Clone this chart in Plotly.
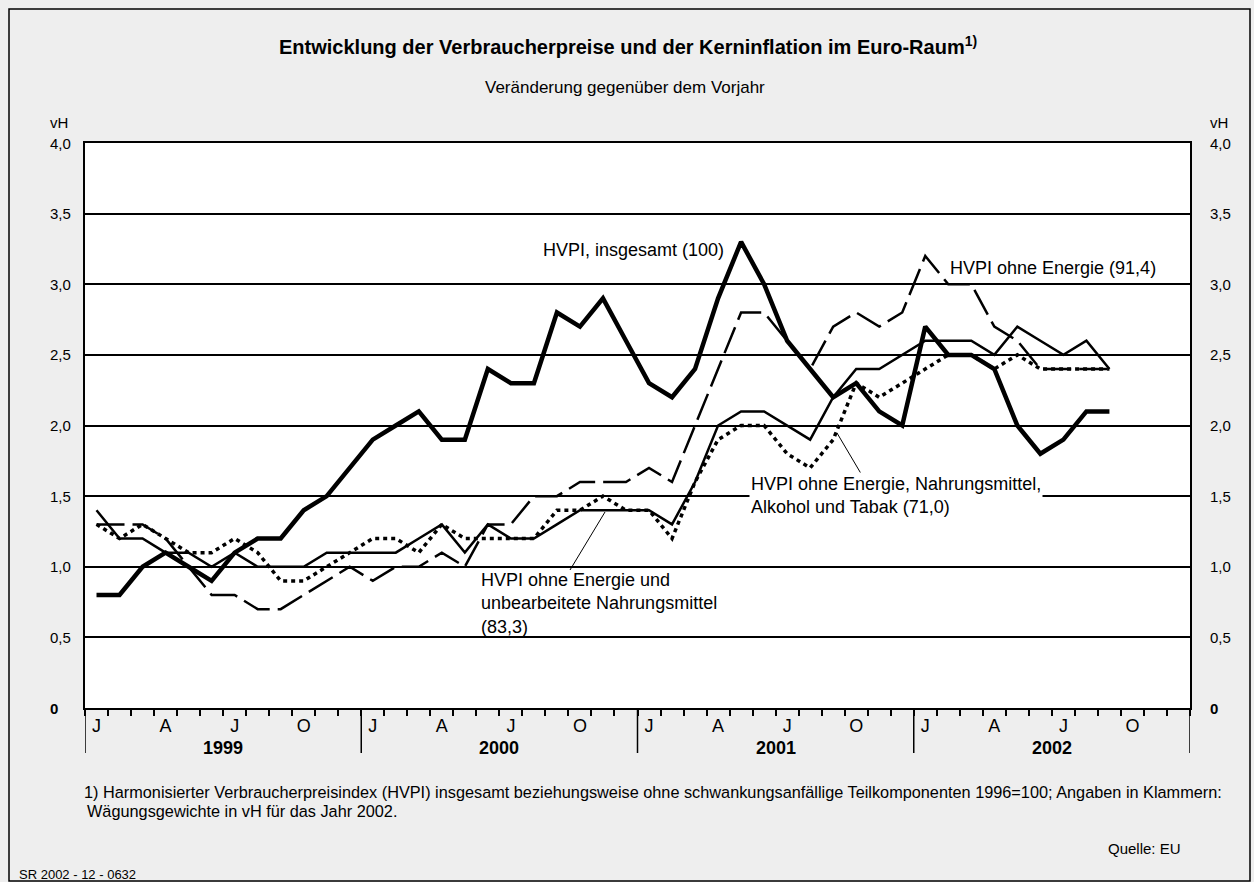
import plotly.graph_objects as go

# month letters and years on the x axis
month_letters = ["J", "F", "M", "A", "M", "J", "J", "A", "S", "O", "N", "D"]
years = ["1999", "2000", "2001", "2002"]

# Veränderung gegenüber dem Vorjahr in vH, Jan 1999 - Sep 2002
hvpi_total = [0.8, 0.8, 1.0, 1.1, 1.0, 0.9, 1.1, 1.2, 1.2, 1.4, 1.5, 1.7,
              1.9, 2.0, 2.1, 1.9, 1.9, 2.4, 2.3, 2.3, 2.8, 2.7, 2.9, 2.6,
              2.3, 2.2, 2.4, 2.9, 3.3, 3.0, 2.6, 2.4, 2.2, 2.3, 2.1, 2.0,
              2.7, 2.5, 2.5, 2.4, 2.0, 1.8, 1.9, 2.1, 2.1]
hvpi_ex_energy = [1.3, 1.3, 1.3, 1.2, 1.0, 0.8, 0.8, 0.7, 0.7, 0.8, 0.9, 1.0,
                  0.9, 1.0, 1.0, 1.1, 1.0, 1.3, 1.3, 1.5, 1.5, 1.6, 1.6, 1.6,
                  1.7, 1.6, 2.0, 2.4, 2.8, 2.8, 2.6, 2.4, 2.7, 2.8, 2.7, 2.8,
                  3.2, 3.0, 3.0, 2.7, 2.6, 2.4, 2.4, 2.4, 2.4]
hvpi_ex_energy_unproc_food = [1.4, 1.2, 1.2, 1.1, 1.1, 1.0, 1.1, 1.0, 1.0, 1.0, 1.1, 1.1,
                              1.1, 1.1, 1.2, 1.3, 1.1, 1.3, 1.2, 1.2, 1.3, 1.4, 1.4, 1.4,
                              1.4, 1.3, 1.6, 2.0, 2.1, 2.1, 2.0, 1.9, 2.2, 2.4, 2.4, 2.5,
                              2.6, 2.6, 2.6, 2.5, 2.7, 2.6, 2.5, 2.6, 2.4]
hvpi_ex_energy_food_alc_tob = [1.3, 1.2, 1.3, 1.2, 1.1, 1.1, 1.2, 1.1, 0.9, 0.9, 1.0, 1.1,
                               1.2, 1.2, 1.1, 1.3, 1.2, 1.2, 1.2, 1.2, 1.4, 1.4, 1.5, 1.4,
                               1.4, 1.2, 1.6, 1.9, 2.0, 2.0, 1.8, 1.7, 1.9, 2.3, 2.2, 2.3,
                               2.4, 2.5, 2.5, 2.4, 2.5, 2.4, 2.4, 2.4, 2.4]

y_ticks = [0, 0.5, 1.0, 1.5, 2.0, 2.5, 3.0, 3.5, 4.0]
y_tick_labels = ["0", "0,5", "1,0", "1,5", "2,0", "2,5", "3,0", "3,5", "4,0"]

FONT = "Liberation Sans, Arial, sans-serif"
W, H = 1254, 882
L, R, T, B = 85, 64, 143, 174
n_months = len(years) * 12


def px_x(px):
    # pixel column -> month index
    return (px - L) / ((W - L - R) / n_months) - 0.5


def px_y(py):
    # pixel row -> value
    return (H - B - py) / ((H - T - B) / 4.0)


fig = go.Figure()


def add_series(values, width, dash):
    fig.add_trace(go.Scatter(
        x=list(range(len(values))), y=values, mode="lines",
        line=dict(color="black", width=width, dash=dash),
        hoverinfo="skip", showlegend=False,
    ))


add_series(hvpi_ex_energy_food_alc_tob, 3.5, "4px,4px")
add_series(hvpi_ex_energy, 2.5, "28px,8px")
add_series(hvpi_ex_energy_unproc_food, 2.5, "solid")
add_series(hvpi_total, 4.5, "solid")

notes = []


def note(text, px, py, size=18, anchor="left", bold=False, bg=None, align="left"):
    if bold:
        text = "<b>" + text + "</b>"
    notes.append(dict(
        text=text, xref="paper", yref="paper", x=0, y=0,
        xshift=px - L, yshift=(H - B) - py, xanchor=anchor, yanchor="middle",
        showarrow=False, align=align, font=dict(family=FONT, size=size, color="black"),
        bgcolor=bg, borderpad=1,
    ))


# y tick labels on both sides
for v, lab in zip(y_ticks, y_tick_labels):
    for x0 in (48, 1208):
        notes.append(dict(
            text="<b>" + lab + "</b>" if v == 0 else lab,
            xref="paper", yref="y", x=0, y=v, xshift=x0 - L, xanchor="left",
            yanchor="middle", showarrow=False,
            font=dict(family=FONT, size=15, color="black"),
        ))
note("vH", 48, 122, size=15)
note("vH", 1208, 122, size=15)

# year labels
for k, yr in enumerate(years):
    notes.append(dict(
        text="<b>" + yr + "</b>", xref="x", yref="paper", x=12 * k + 5.5, y=0,
        yshift=-40, xanchor="center", yanchor="middle", showarrow=False,
        font=dict(family=FONT, size=18, color="black"),
    ))

note("Entwicklung der Verbraucherpreise und der Kerninflation im Euro-Raum<sup>1)</sup>",
     628, 45, size=20, anchor="center", bold=True)
note("Veränderung gegenüber dem Vorjahr", 625, 87, size=17, anchor="center")

note("HVPI, insgesamt (100)", 541, 250)
note("HVPI ohne Energie (91,4)", 948, 268)
note("HVPI ohne Energie, Nahrungsmittel,<br>Alkohol und Tabak (71,0)", 749, 495, bg="white")
note("HVPI ohne Energie und<br>unbearbeitete Nahrungsmittel<br>(83,3)", 479, 603)

note("1) Harmonisierter Verbraucherpreisindex (HVPI) insgesamt beziehungsweise ohne "
     "schwankungsanfällige Teilkomponenten 1996=100; Angaben in Klammern:", 82, 792, size=16.3)
note("Wägungsgewichte in vH für das Jahr 2002.", 85, 811, size=16.3)
note("Quelle: EU", 1183, 848, size=15, anchor="right")
note("SR 2002 - 12 - 0632", 17, 874, size=13)

shapes = []
# year separators below the axis
for k in range(len(years) + 1):
    shapes.append(dict(type="line", xref="x", yref="paper", x0=12 * k - 0.5, x1=12 * k - 0.5,
                       y0=0, y1=-45 / (H - T - B), line=dict(color="black", width=1.5)))
# pointer lines to the curves
for (ax, ay, bx, by) in [(570, 570, 605, 512), (863, 477, 837, 433)]:
    shapes.append(dict(type="line", xref="x", yref="y", x0=px_x(ax), y0=px_y(ay),
                       x1=px_x(bx), y1=px_y(by), line=dict(color="black", width=1)))
# outer frame
pw, ph = W - L - R, H - T - B
shapes.append(dict(type="rect", xref="paper", yref="paper",
                   x0=(9 - L) / pw, x1=(1250 - L) / pw,
                   y0=((H - B) - 881) / ph, y1=((H - B) - 9) / ph,
                   line=dict(color="black", width=1.5), layer="below"))

fig.update_layout(
    width=W, height=H,
    margin=dict(l=L, r=R, t=T, b=B),
    paper_bgcolor="#eeeeee", plot_bgcolor="white",
    font=dict(family=FONT, size=18, color="black"),
    showlegend=False,
    xaxis=dict(
        range=[-0.5, n_months - 0.5],
        tickvals=[i for i in range(n_months) if i % 3 == 0],
        ticktext=[month_letters[i % 12] for i in range(n_months) if i % 3 == 0],
        ticks="", ticklen=0, tickfont=dict(family=FONT, size=18),
        showline=True, linecolor="black", linewidth=2, mirror=True,
        showgrid=False, zeroline=False,
        minor=dict(tickmode="array", tickvals=[i - 0.5 for i in range(n_months + 1)],
                   ticks="outside", ticklen=6, tickwidth=1.5, tickcolor="black", showgrid=False),
    ),
    yaxis=dict(
        range=[0, 4], tickvals=y_ticks, showticklabels=False, ticks="",
        showgrid=True, gridcolor="black", gridwidth=1.5,
        showline=True, linecolor="black", linewidth=2, mirror=True, zeroline=False,
    ),
    annotations=notes,
    shapes=shapes,
)

fig.write_html("out.html", config={"displayModeBar": False},
               post_script="document.body.style.margin='0';")
